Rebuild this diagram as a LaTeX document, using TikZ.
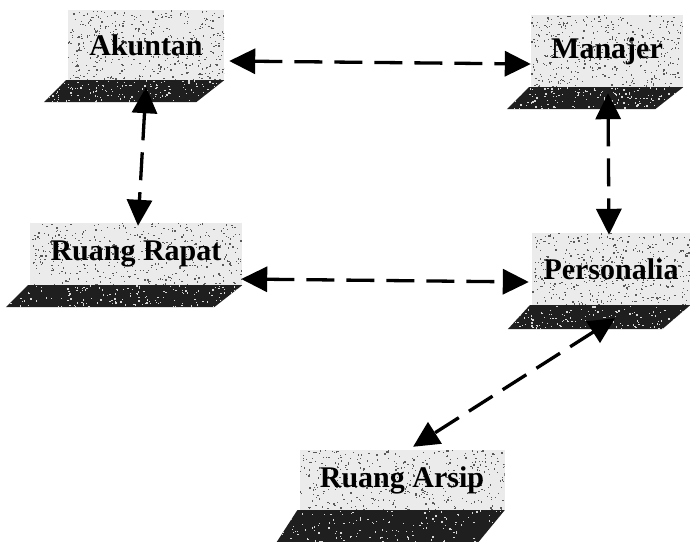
\documentclass[tikz,border=0pt]{standalone}
\usepackage{fontspec}
\setmainfont{Liberation Serif}
\usetikzlibrary{arrows.meta,calc}

\definecolor{screenfill}{gray}{0.92}
\definecolor{screenspeck}{gray}{0.35}
\definecolor{basefill}{gray}{0.12}
\definecolor{basespeck}{gray}{0.85}

\pgfmathsetseed{4242}

\tikzset{
  % scatter small squares over the current path's area
  speckle/.style n args={2}{path picture={
    \foreach \i in {1,...,#1}{
      \coordinate (spx) at ($(path picture bounding box.south west)!{rnd}!(path picture bounding box.south east)$);
      \coordinate (spy) at ($(path picture bounding box.south west)!{rnd}!(path picture bounding box.north west)$);
      \fill[#2] (spx |- spy) rectangle ++(1.3,1.3);
    }}},
  screen/.style={rectangle, fill=screenfill, inner sep=0pt,
    speckle={420}{screenspeck},
    font=\fontsize{30}{32}\selectfont\bfseries},
  kb/.style={fill=basefill, speckle={160}{basespeck}},
  link/.style={line width=3.3pt, dash pattern=on 28pt off 12pt,
    {Triangle[length=26pt,width=25pt]}-{Triangle[length=26pt,width=25pt]}}
}

\begin{document}
\begin{tikzpicture}[x=1pt,y=-1pt]
\useasboundingbox (0,0) rectangle (690,541);

% workstation screens
\node[screen, minimum width=156pt, minimum height=70pt] (akuntan) at (146,45) {Akuntan};
\node[screen, minimum width=152pt, minimum height=72pt] (manajer) at (607,51) {Manajer};
\node[screen, minimum width=212pt, minimum height=62pt] (rapat) at (136,254) {Ruang Rapat};
\node[screen, minimum width=158pt, minimum height=72pt] (personalia) at (611,269) {Personalia};
\node[screen, minimum width=205pt, minimum height=60pt] (arsip) at (402,480) {Ruang Arsip};

% keyboard bases under each screen (name / depth)
\foreach \n/\d in {akuntan/22,manajer/22,rapat/22,personalia/24,arsip/34}{
  \path[kb] ($(\n.south west)+(-2,0)$) -- (\n.south east)
    -- ($(\n.south east)+(-28,\d)$) -- ($(\n.south west)+(-24,\d)$) -- cycle;
}

% connections between rooms
\draw[link] ([shift={(5,16)}]akuntan.east) -- ([shift={(0,13)}]manajer.west);
\draw[link] ([shift={(0,7)}]akuntan.south) -- ([shift={(2,3)}]rapat.north);
\draw[link] ([shift={(1,6)}]manajer.south) -- ([shift={(-2,2)}]personalia.north);
\draw[link] ([shift={(-1,25)}]rapat.east) -- ([shift={(-3,13)}]personalia.west);
\draw[link] ([shift={(4,13)}]personalia.south) -- ([shift={(11,-3)}]arsip.north);
\end{tikzpicture}
\end{document}
